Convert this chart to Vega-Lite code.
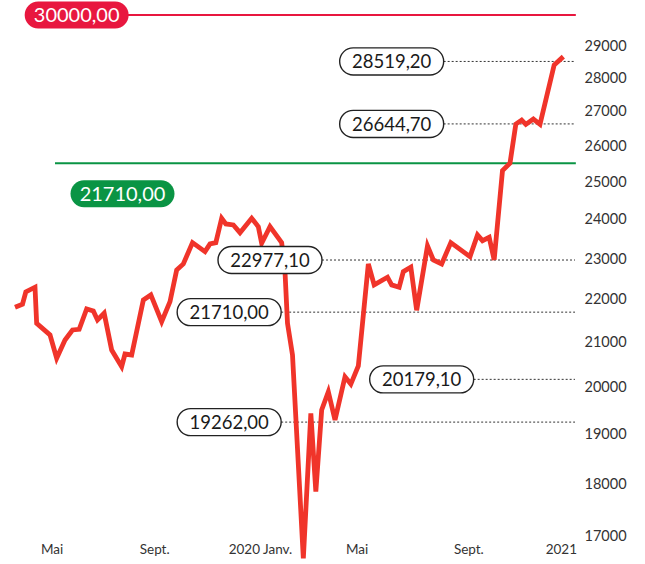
{
  "$schema": "https://vega.github.io/schema/vega-lite/v6.json",
  "width": 580,
  "height": 564,
  "autosize": {"type": "none"},
  "padding": {"left": 0, "top": 0, "right": 65, "bottom": 0},
  "background": "white",
  "config": {"view": {"stroke": null}, "font": "Lato"},
  "datasets": {
    "series": [
      {"date": "2019-03-18", "value": 21826},
      {"date": "2019-03-27", "value": 21898},
      {"date": "2019-03-31", "value": 22193},
      {"date": "2019-04-11", "value": 22307},
      {"date": "2019-04-13", "value": 21449},
      {"date": "2019-04-29", "value": 21178},
      {"date": "2019-05-07", "value": 20647},
      {"date": "2019-05-17", "value": 21063},
      {"date": "2019-05-26", "value": 21293},
      {"date": "2019-06-03", "value": 21309},
      {"date": "2019-06-12", "value": 21785},
      {"date": "2019-06-20", "value": 21738},
      {"date": "2019-06-25", "value": 21526},
      {"date": "2019-07-03", "value": 21684},
      {"date": "2019-07-12", "value": 20834},
      {"date": "2019-07-24", "value": 20459},
      {"date": "2019-07-28", "value": 20743},
      {"date": "2019-08-05", "value": 20721},
      {"date": "2019-08-19", "value": 22000},
      {"date": "2019-08-28", "value": 22120},
      {"date": "2019-09-10", "value": 21487},
      {"date": "2019-09-20", "value": 21960},
      {"date": "2019-09-28", "value": 22731},
      {"date": "2019-10-06", "value": 22880},
      {"date": "2019-10-17", "value": 23416},
      {"date": "2019-11-01", "value": 23188},
      {"date": "2019-11-07", "value": 23383},
      {"date": "2019-11-14", "value": 23416},
      {"date": "2019-11-21", "value": 24045},
      {"date": "2019-11-26", "value": 23896},
      {"date": "2019-12-05", "value": 23870},
      {"date": "2019-12-13", "value": 23671},
      {"date": "2019-12-27", "value": 24045},
      {"date": "2020-01-04", "value": 23826},
      {"date": "2020-01-08", "value": 23401},
      {"date": "2020-01-18", "value": 23826},
      {"date": "2020-02-01", "value": 23416},
      {"date": "2020-02-05", "value": 22682},
      {"date": "2020-02-08", "value": 21449},
      {"date": "2020-02-14", "value": 20721},
      {"date": "2020-02-27", "value": 16609},
      {"date": "2020-03-07", "value": 19447},
      {"date": "2020-03-13", "value": 17857},
      {"date": "2020-03-20", "value": 19517},
      {"date": "2020-03-28", "value": 19909},
      {"date": "2020-04-05", "value": 19306},
      {"date": "2020-04-17", "value": 20236},
      {"date": "2020-04-24", "value": 20076},
      {"date": "2020-05-03", "value": 20474},
      {"date": "2020-05-15", "value": 22880},
      {"date": "2020-05-22", "value": 22363},
      {"date": "2020-06-07", "value": 22551},
      {"date": "2020-06-12", "value": 22363},
      {"date": "2020-06-21", "value": 22307},
      {"date": "2020-06-26", "value": 22689},
      {"date": "2020-07-05", "value": 22798},
      {"date": "2020-07-12", "value": 21755},
      {"date": "2020-07-25", "value": 23332},
      {"date": "2020-08-01", "value": 22980},
      {"date": "2020-08-11", "value": 22880},
      {"date": "2020-08-22", "value": 23416},
      {"date": "2020-09-14", "value": 23063},
      {"date": "2020-09-23", "value": 23612},
      {"date": "2020-09-29", "value": 23466},
      {"date": "2020-10-07", "value": 23553},
      {"date": "2020-10-13", "value": 22980},
      {"date": "2020-10-23", "value": 25324},
      {"date": "2020-11-01", "value": 25532},
      {"date": "2020-11-08", "value": 26640},
      {"date": "2020-11-15", "value": 26756},
      {"date": "2020-11-20", "value": 26631},
      {"date": "2020-11-29", "value": 26785},
      {"date": "2020-12-07", "value": 26631},
      {"date": "2020-12-24", "value": 28411},
      {"date": "2021-01-04", "value": 28669}
    ],
    "levels": [
      {"date": "2020-06-12", "value": 28519.2, "label": "28519,20"},
      {"date": "2020-06-12", "value": 26644.7, "label": "26644,70"},
      {"date": "2020-01-18", "value": 22977.1, "label": "22977,10"},
      {"date": "2019-11-30", "value": 21710, "label": "21710,00"},
      {"date": "2020-07-18", "value": 20179.1, "label": "20179,10"},
      {"date": "2019-11-30", "value": 19262, "label": "19262,00"}
    ],
    "refs": [
      {"kind": "target", "date": "2019-05-05", "value": 25530},
      {"kind": "ceiling", "date": "2019-05-31", "value": 30000}
    ],
    "badges": [
      {"kind": "target", "date": "2019-07-25", "value": 24693, "label": "21710,00"},
      {"kind": "ceiling", "date": "2019-05-31", "value": 30000, "label": "30000,00"}
    ]
  },
  "encoding": {
    "x": {
      "field": "date",
      "type": "temporal",
      "scale": {
        "type": "utc",
        "domain": [
          {"year": 2019, "month": 2, "date": 28, "utc": true},
          {"year": 2021, "month": 1, "date": 24, "utc": true}
        ]
      },
      "axis": {
        "orient": "bottom",
        "values": [
          {"year": 2019, "month": 5, "date": 1, "utc": true},
          {"year": 2019, "month": 9, "date": 1, "utc": true},
          {"year": 2020, "month": 1, "date": 6, "utc": true},
          {"year": 2020, "month": 5, "date": 1, "utc": true},
          {"year": 2020, "month": 9, "date": 12, "utc": true},
          {"year": 2021, "month": 1, "date": 1, "utc": true}
        ],
        "labelExpr": "utcFormat(datum.value,'%m')=='05' ? 'Mai' : utcFormat(datum.value,'%m')=='09' ? 'Sept.' : utcFormat(datum.value,'%Y')=='2020' ? '2020 Janv.' : '2021'",
        "domain": false,
        "ticks": false,
        "tickSize": 0,
        "grid": false,
        "title": null,
        "offset": -22,
        "labelPadding": 0,
        "labelBaseline": "top",
        "labelFont": "Lato",
        "labelFontSize": 13.5,
        "labelColor": "#333333",
        "labelFlush": false,
        "labelOverlap": false
      }
    },
    "y": {
      "field": "value",
      "type": "quantitative",
      "scale": {"type": "log", "domain": [16506, 30491], "nice": false},
      "axis": {
        "orient": "right",
        "values": [17000, 18000, 19000, 20000, 21000, 22000, 23000, 24000, 25000, 26000, 27000, 28000, 29000],
        "format": "d",
        "domain": false,
        "ticks": false,
        "tickSize": 0,
        "grid": false,
        "title": null,
        "labelPadding": 4,
        "labelFont": "Lato",
        "labelFontSize": 14.5,
        "labelColor": "#333333"
      }
    }
  },
  "layer": [
    {
      "data": {"name": "refs"},
      "mark": {"type": "rule", "strokeWidth": 2},
      "encoding": {
        "x2": {"datum": {"year": 2021, "month": 1, "date": 19, "utc": true}},
        "color": {"field": "kind", "type": "nominal", "scale": {"domain": ["target", "ceiling"], "range": ["#0A9444", "#E8173F"]}, "legend": null}
      }
    },
    {
      "data": {"name": "levels"},
      "mark": {"type": "rule", "strokeWidth": 1, "strokeDash": [2, 2], "color": "#333333"},
      "encoding": {
        "x2": {"datum": {"year": 2021, "month": 1, "date": 18, "utc": true}}
      }
    },
    {
      "data": {"name": "series"},
      "mark": {"type": "line", "color": "#F0342A", "strokeWidth": 4.8},
      "encoding": {}
    },
    {
      "data": {"name": "levels"},
      "mark": {
        "type": "point",
        "shape": "M-0.74,-0.26L0.74,-0.26A0.26,0.26,0,0,1,0.74,0.26L-0.74,0.26A0.26,0.26,0,0,1,-0.74,-0.26Z",
        "size": 10816,
        "filled": true,
        "fill": "white",
        "stroke": "#222222",
        "strokeWidth": 1.4,
        "opacity": 1
      },
      "encoding": {}
    },
    {
      "data": {"name": "badges"},
      "mark": {
        "type": "point",
        "shape": "M-0.74,-0.26L0.74,-0.26A0.26,0.26,0,0,1,0.74,0.26L-0.74,0.26A0.26,0.26,0,0,1,-0.74,-0.26Z",
        "size": 10816,
        "filled": true,
        "strokeWidth": 0,
        "opacity": 1
      },
      "encoding": {
        "color": {"field": "kind", "type": "nominal", "legend": null}
      }
    },
    {
      "data": {"name": "levels"},
      "mark": {"type": "text", "font": "Lato", "fontSize": 18.5, "color": "#1a1a1a", "align": "center", "baseline": "middle", "dy": 1},
      "encoding": {"text": {"field": "label"}}
    },
    {
      "data": {"name": "badges"},
      "mark": {"type": "text", "font": "Lato", "fontSize": 20, "color": "white", "align": "center", "baseline": "middle", "dy": 1},
      "encoding": {"text": {"field": "label"}}
    }
  ]
}
